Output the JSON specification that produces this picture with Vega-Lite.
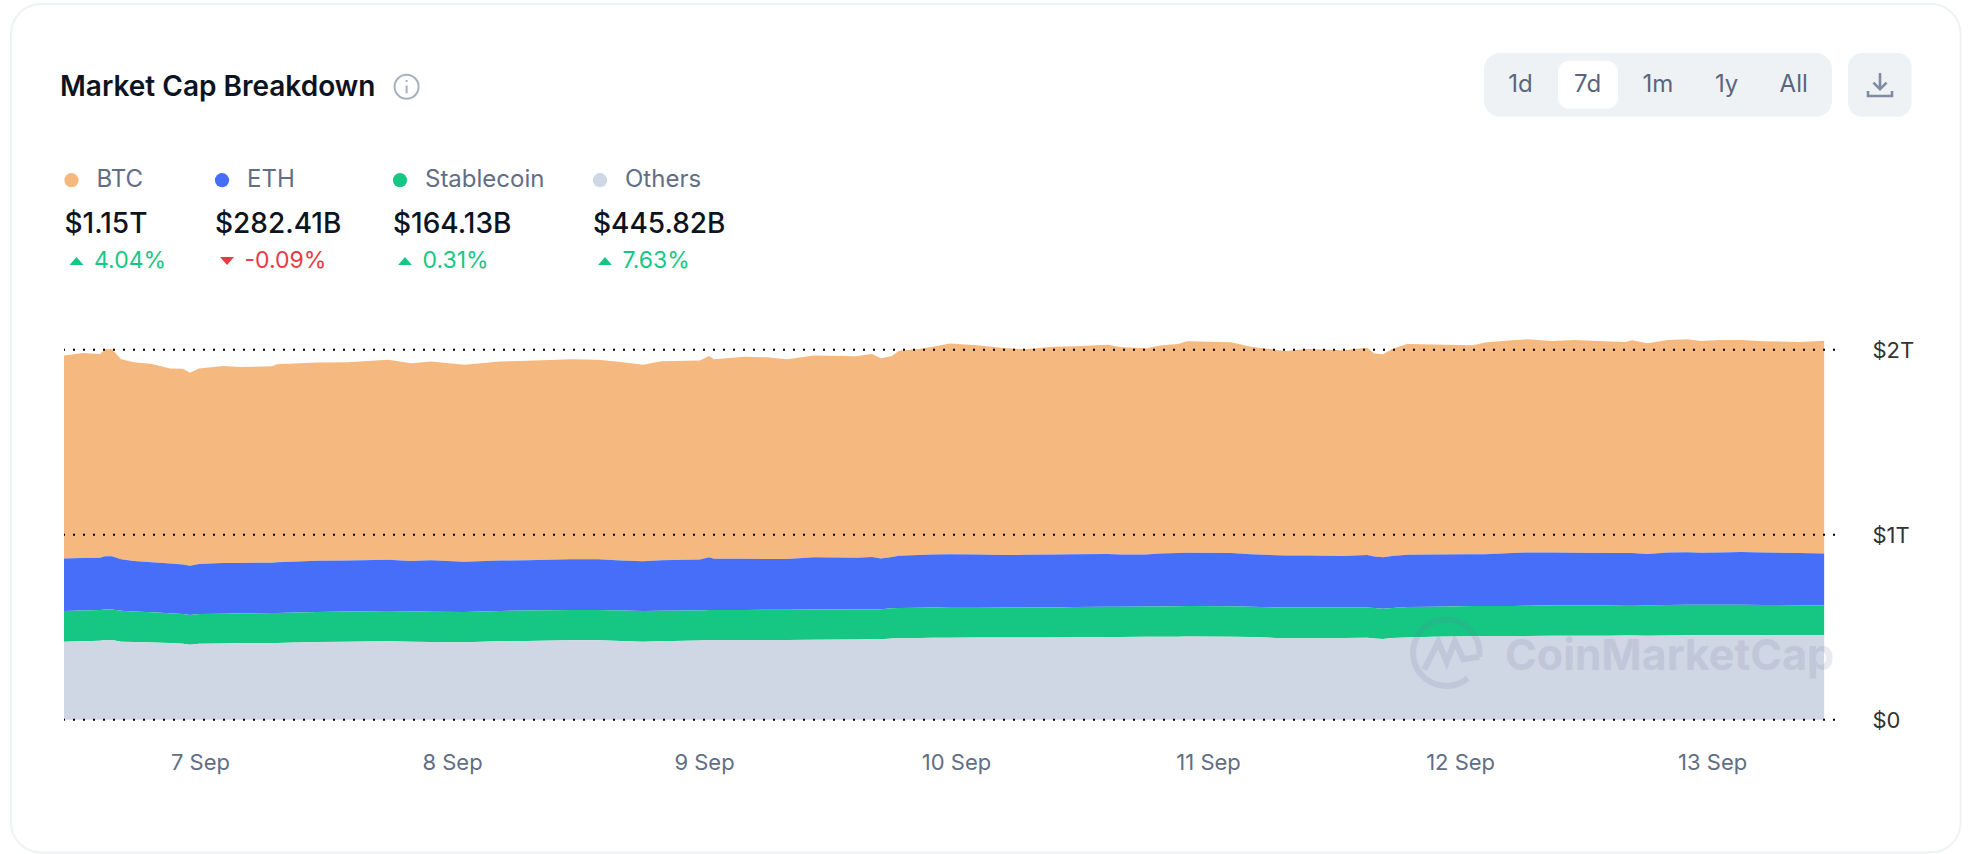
{
"$schema":"https://vega.github.io/schema/vega-lite/v6.json",
"width":1771,"height":370,
"autosize":"none",
"padding":{"left":64,"top":349.7,"right":134,"bottom":134.3},
"background":"#ffffff",
"config":{"view":{"stroke":null},"font":"Inter"},
"title":{"text":"Market Cap Breakdown","anchor":"start","frame":"group","offset":-113,"baseline":"middle","fontSize":28,"font":"Inter","fontWeight":600,"color":"#0d1421","dx":-4},
"datasets":{
"caps":[
{"t":"2024-09-06T11:03Z","Others":0.422,"Stablecoin":0.166,"ETH":0.283,"BTC":1.097},
{"t":"2024-09-06T12:51Z","Others":0.424,"Stablecoin":0.166,"ETH":0.284,"BTC":1.108},
{"t":"2024-09-06T14:29Z","Others":0.427,"Stablecoin":0.166,"ETH":0.283,"BTC":1.101},
{"t":"2024-09-06T14:57Z","Others":0.431,"Stablecoin":0.165,"ETH":0.287,"BTC":1.119},
{"t":"2024-09-06T15:37Z","Others":0.431,"Stablecoin":0.165,"ETH":0.288,"BTC":1.119},
{"t":"2024-09-06T16:29Z","Others":0.422,"Stablecoin":0.167,"ETH":0.278,"BTC":1.081},
{"t":"2024-09-06T17:43Z","Others":0.420,"Stablecoin":0.165,"ETH":0.273,"BTC":1.074},
{"t":"2024-09-06T19:26Z","Others":0.417,"Stablecoin":0.164,"ETH":0.270,"BTC":1.072},
{"t":"2024-09-06T21:09Z","Others":0.414,"Stablecoin":0.162,"ETH":0.268,"BTC":1.054},
{"t":"2024-09-06T22:23Z","Others":0.410,"Stablecoin":0.161,"ETH":0.268,"BTC":1.058},
{"t":"2024-09-06T23:03Z","Others":0.405,"Stablecoin":0.161,"ETH":0.266,"BTC":1.043},
{"t":"2024-09-06T23:54Z","Others":0.411,"Stablecoin":0.161,"ETH":0.270,"BTC":1.056},
{"t":"2024-09-07T02:11Z","Others":0.412,"Stablecoin":0.161,"ETH":0.274,"BTC":1.065},
{"t":"2024-09-07T03:54Z","Others":0.414,"Stablecoin":0.161,"ETH":0.272,"BTC":1.059},
{"t":"2024-09-07T06:51Z","Others":0.415,"Stablecoin":0.162,"ETH":0.272,"BTC":1.062},
{"t":"2024-09-07T07:20Z","Others":0.415,"Stablecoin":0.162,"ETH":0.274,"BTC":1.071},
{"t":"2024-09-07T11:09Z","Others":0.420,"Stablecoin":0.162,"ETH":0.277,"BTC":1.072},
{"t":"2024-09-07T14:06Z","Others":0.422,"Stablecoin":0.163,"ETH":0.275,"BTC":1.072},
{"t":"2024-09-07T17:54Z","Others":0.424,"Stablecoin":0.164,"ETH":0.277,"BTC":1.081},
{"t":"2024-09-07T20:06Z","Others":0.422,"Stablecoin":0.164,"ETH":0.272,"BTC":1.069},
{"t":"2024-09-07T22:00Z","Others":0.420,"Stablecoin":0.164,"ETH":0.278,"BTC":1.074},
{"t":"2024-09-08T01:09Z","Others":0.418,"Stablecoin":0.164,"ETH":0.272,"BTC":1.065},
{"t":"2024-09-08T04:34Z","Others":0.424,"Stablecoin":0.164,"ETH":0.272,"BTC":1.076},
{"t":"2024-09-08T07:09Z","Others":0.426,"Stablecoin":0.164,"ETH":0.272,"BTC":1.078},
{"t":"2024-09-08T11:20Z","Others":0.430,"Stablecoin":0.163,"ETH":0.274,"BTC":1.081},
{"t":"2024-09-08T13:54Z","Others":0.430,"Stablecoin":0.163,"ETH":0.274,"BTC":1.079},
{"t":"2024-09-08T16:06Z","Others":0.425,"Stablecoin":0.165,"ETH":0.271,"BTC":1.072},
{"t":"2024-09-08T18:11Z","Others":0.422,"Stablecoin":0.166,"ETH":0.269,"BTC":1.061},
{"t":"2024-09-08T19:54Z","Others":0.424,"Stablecoin":0.165,"ETH":0.273,"BTC":1.076},
{"t":"2024-09-08T23:37Z","Others":0.428,"Stablecoin":0.162,"ETH":0.276,"BTC":1.075},
{"t":"2024-09-09T00:28Z","Others":0.431,"Stablecoin":0.162,"ETH":0.285,"BTC":1.088},
{"t":"2024-09-09T00:57Z","Others":0.431,"Stablecoin":0.162,"ETH":0.277,"BTC":1.078},
{"t":"2024-09-09T03:54Z","Others":0.431,"Stablecoin":0.162,"ETH":0.277,"BTC":1.092},
{"t":"2024-09-09T06:00Z","Others":0.431,"Stablecoin":0.163,"ETH":0.275,"BTC":1.090},
{"t":"2024-09-09T07:54Z","Others":0.431,"Stablecoin":0.164,"ETH":0.274,"BTC":1.079},
{"t":"2024-09-09T10:28Z","Others":0.432,"Stablecoin":0.164,"ETH":0.282,"BTC":1.090},
{"t":"2024-09-09T14:28Z","Others":0.434,"Stablecoin":0.163,"ETH":0.279,"BTC":1.088},
{"t":"2024-09-09T16:00Z","Others":0.435,"Stablecoin":0.162,"ETH":0.283,"BTC":1.097},
{"t":"2024-09-09T16:51Z","Others":0.435,"Stablecoin":0.162,"ETH":0.274,"BTC":1.083},
{"t":"2024-09-09T17:54Z","Others":0.439,"Stablecoin":0.163,"ETH":0.278,"BTC":1.086},
{"t":"2024-09-09T18:34Z","Others":0.442,"Stablecoin":0.162,"ETH":0.282,"BTC":1.109},
{"t":"2024-09-09T20:29Z","Others":0.442,"Stablecoin":0.163,"ETH":0.285,"BTC":1.114},
{"t":"2024-09-09T21:43Z","Others":0.443,"Stablecoin":0.164,"ETH":0.286,"BTC":1.123},
{"t":"2024-09-09T23:26Z","Others":0.443,"Stablecoin":0.166,"ETH":0.286,"BTC":1.139},
{"t":"2024-09-10T02:00Z","Others":0.444,"Stablecoin":0.165,"ETH":0.284,"BTC":1.131},
{"t":"2024-09-10T04:34Z","Others":0.444,"Stablecoin":0.164,"ETH":0.282,"BTC":1.119},
{"t":"2024-09-10T06:29Z","Others":0.445,"Stablecoin":0.163,"ETH":0.283,"BTC":1.112},
{"t":"2024-09-10T09:14Z","Others":0.445,"Stablecoin":0.162,"ETH":0.286,"BTC":1.123},
{"t":"2024-09-10T11:20Z","Others":0.446,"Stablecoin":0.163,"ETH":0.285,"BTC":1.125},
{"t":"2024-09-10T14:28Z","Others":0.447,"Stablecoin":0.164,"ETH":0.285,"BTC":1.131},
{"t":"2024-09-10T15:37Z","Others":0.447,"Stablecoin":0.164,"ETH":0.282,"BTC":1.122},
{"t":"2024-09-10T18:06Z","Others":0.448,"Stablecoin":0.164,"ETH":0.281,"BTC":1.115},
{"t":"2024-09-10T19:26Z","Others":0.448,"Stablecoin":0.164,"ETH":0.286,"BTC":1.125},
{"t":"2024-09-10T21:09Z","Others":0.449,"Stablecoin":0.164,"ETH":0.288,"BTC":1.130},
{"t":"2024-09-10T22:00Z","Others":0.450,"Stablecoin":0.164,"ETH":0.289,"BTC":1.143},
{"t":"2024-09-11T02:11Z","Others":0.448,"Stablecoin":0.165,"ETH":0.288,"BTC":1.139},
{"t":"2024-09-11T04:06Z","Others":0.447,"Stablecoin":0.163,"ETH":0.285,"BTC":1.121},
{"t":"2024-09-11T06:29Z","Others":0.442,"Stablecoin":0.165,"ETH":0.282,"BTC":1.110},
{"t":"2024-09-11T07:20Z","Others":0.442,"Stablecoin":0.164,"ETH":0.281,"BTC":1.106},
{"t":"2024-09-11T09:26Z","Others":0.442,"Stablecoin":0.164,"ETH":0.281,"BTC":1.117},
{"t":"2024-09-11T12:51Z","Others":0.441,"Stablecoin":0.165,"ETH":0.279,"BTC":1.112},
{"t":"2024-09-11T15:09Z","Others":0.443,"Stablecoin":0.164,"ETH":0.283,"BTC":1.121},
{"t":"2024-09-11T15:49Z","Others":0.439,"Stablecoin":0.165,"ETH":0.278,"BTC":1.098},
{"t":"2024-09-11T16:40Z","Others":0.436,"Stablecoin":0.164,"ETH":0.278,"BTC":1.097},
{"t":"2024-09-11T17:31Z","Others":0.441,"Stablecoin":0.163,"ETH":0.281,"BTC":1.119},
{"t":"2024-09-11T18:57Z","Others":0.445,"Stablecoin":0.164,"ETH":0.283,"BTC":1.139},
{"t":"2024-09-11T21:26Z","Others":0.448,"Stablecoin":0.163,"ETH":0.282,"BTC":1.135},
{"t":"2024-09-12T01:14Z","Others":0.451,"Stablecoin":0.163,"ETH":0.280,"BTC":1.130},
{"t":"2024-09-12T02:23Z","Others":0.452,"Stablecoin":0.162,"ETH":0.281,"BTC":1.144},
{"t":"2024-09-12T04:57Z","Others":0.452,"Stablecoin":0.163,"ETH":0.286,"BTC":1.150},
{"t":"2024-09-12T06:23Z","Others":0.453,"Stablecoin":0.163,"ETH":0.288,"BTC":1.152},
{"t":"2024-09-12T08:46Z","Others":0.454,"Stablecoin":0.164,"ETH":0.286,"BTC":1.143},
{"t":"2024-09-12T10:51Z","Others":0.454,"Stablecoin":0.164,"ETH":0.285,"BTC":1.149},
{"t":"2024-09-12T14:17Z","Others":0.454,"Stablecoin":0.165,"ETH":0.282,"BTC":1.144},
{"t":"2024-09-12T15:43Z","Others":0.455,"Stablecoin":0.165,"ETH":0.281,"BTC":1.140},
{"t":"2024-09-12T16:23Z","Others":0.455,"Stablecoin":0.165,"ETH":0.281,"BTC":1.150},
{"t":"2024-09-12T17:49Z","Others":0.454,"Stablecoin":0.165,"ETH":0.277,"BTC":1.139},
{"t":"2024-09-12T19:49Z","Others":0.455,"Stablecoin":0.165,"ETH":0.284,"BTC":1.149},
{"t":"2024-09-12T21:37Z","Others":0.456,"Stablecoin":0.165,"ETH":0.284,"BTC":1.151},
{"t":"2024-09-12T22:57Z","Others":0.456,"Stablecoin":0.165,"ETH":0.282,"BTC":1.144},
{"t":"2024-09-13T00:40Z","Others":0.456,"Stablecoin":0.165,"ETH":0.283,"BTC":1.148},
{"t":"2024-09-13T02:46Z","Others":0.456,"Stablecoin":0.165,"ETH":0.285,"BTC":1.146},
{"t":"2024-09-13T04:52Z","Others":0.456,"Stablecoin":0.164,"ETH":0.284,"BTC":1.142},
{"t":"2024-09-13T08:17Z","Others":0.456,"Stablecoin":0.163,"ETH":0.282,"BTC":1.141},
{"t":"2024-09-13T10:40Z","Others":0.456,"Stablecoin":0.162,"ETH":0.281,"BTC":1.149}
],
"summary":[
{"order":1,"series":"BTC","cap":"$1.15T","change":"4.04%","dir":"up"},
{"order":2,"series":"ETH","cap":"$282.41B","change":"-0.09%","dir":"down"},
{"order":3,"series":"Stablecoin","cap":"$164.13B","change":"0.31%","dir":"up"},
{"order":4,"series":"Others","cap":"$445.82B","change":"7.63%","dir":"up"}
],
"ranges":[
{"slot":1,"range":"1d"},{"slot":2,"range":"7d"},{"slot":3,"range":"1m"},{"slot":4,"range":"1y"},{"slot":5,"range":"All"}
],
"gridlines":[{"level":0},{"level":1},{"level":2}]
},
"resolve":{"scale":{"x":"independent","y":"independent"},"axis":{"x":"independent","y":"independent"}},
"layer":[
{"data":{"values":[{"part":"card"}]},"mark":{"type":"rect","fillOpacity":0,"stroke":"#eff2f5","strokeWidth":2,"cornerRadius":30},
 "encoding":{"x":{"value":-53},"x2":{"value":1896.6},"y":{"value":-345.7},"y2":{"value":502.9}}},
{"data":{"values":[{"part":"range selector"}]},"mark":{"type":"rect","fill":"#eff2f5","cornerRadius":16},
 "encoding":{"x":{"value":1420},"x2":{"value":1768},"y":{"value":-296.7},"y2":{"value":-233}}},
{"data":{"values":[{"part":"active range"}]},"mark":{"type":"rect","fill":"#ffffff","cornerRadius":11},
 "encoding":{"x":{"value":1494},"x2":{"value":1554},"y":{"value":-288.7},"y2":{"value":-241}}},
{"data":{"values":[{"part":"download"}]},"mark":{"type":"rect","fill":"#eff2f5","cornerRadius":14},
 "encoding":{"x":{"value":1784},"x2":{"value":1847.6},"y":{"value":-296.7},"y2":{"value":-233}}},
{"data":{"values":[{"part":"download icon"}]},"mark":{"type":"point","filled":false,"stroke":"#7f8ba3","strokeWidth":2.6,"size":576,"opacity":1,"shape":"M0,-1L0,0.35M-0.55,-0.2L0,0.35L0.55,-0.2M-1,0.5L-1,0.92L1,0.92L1,0.5"},
 "encoding":{"x":{"value":1816},"y":{"value":-264.7}}},
{"data":{"values":[{"part":"info icon"}]},"mark":{"type":"point","filled":false,"stroke":"#a6b0c3","strokeWidth":2,"size":576,"opacity":1,"shape":"M-1,0A1,1 0 1 1 1,0A1,1 0 1 1 -1,0M0,-0.1L0,0.55M0,-0.55L0,-0.4"},
 "encoding":{"x":{"value":342.6},"y":{"value":-263}}},
{"data":{"name":"ranges"},"mark":{"type":"text","font":"Inter","fontSize":24,"color":"#58667e","baseline":"middle","align":"center"},
 "encoding":{"x":{"field":"slot","type":"quantitative","axis":null,"scale":{"domain":[1,2,3,4,5],"range":[1456.5,1523.6,1594,1662.6,1729.7],"nice":false,"zero":false}},"y":{"value":-264.7},"text":{"field":"range"}}},
{"data":{"name":"summary"},"mark":{"type":"point","filled":true,"size":201,"opacity":1,"xOffset":7.5},
 "encoding":{"x":{"field":"order","type":"quantitative","axis":null,"scale":{"domain":[1,2,3,4],"range":[0,150.5,328.5,528.5],"nice":false,"zero":false}},
 "y":{"datum":"name","type":"nominal","axis":null,"scale":{"domain":["name","cap","change"],"range":[-169.5,-88.7],"padding":0}},
 "color":{"field":"series","type":"nominal","legend":null,"scale":{"domain":["BTC","ETH","Stablecoin","Others"],"range":["#f5b97f","#476ef8","#16c784","#cfd6e4"]}}}},
{"data":{"name":"summary"},"mark":{"type":"text","font":"Inter","fontSize":24,"color":"#616e85","baseline":"middle","align":"left","xOffset":32.5},
 "encoding":{"x":{"field":"order","type":"quantitative","axis":null,"scale":{"domain":[1,2,3,4],"range":[0,150.5,328.5,528.5],"nice":false,"zero":false}},
 "y":{"datum":"name","type":"nominal","axis":null,"scale":{"domain":["name","cap","change"],"range":[-169.5,-88.7],"padding":0}},
 "text":{"field":"series"}}},
{"data":{"name":"summary"},"mark":{"type":"text","font":"Inter","fontSize":28,"fontWeight":500,"color":"#0d1421","baseline":"middle","align":"left","xOffset":0.5,"yOffset":4},
 "encoding":{"x":{"field":"order","type":"quantitative","axis":null,"scale":{"domain":[1,2,3,4],"range":[0,150.5,328.5,528.5],"nice":false,"zero":false}},
 "y":{"datum":"cap","type":"nominal","axis":null,"scale":{"domain":["name","cap","change"],"range":[-169.5,-88.7],"padding":0}},
 "text":{"field":"cap"}}},
{"data":{"name":"summary"},"mark":{"type":"point","filled":true,"size":196,"opacity":1,"xOffset":12.5},
 "encoding":{"x":{"field":"order","type":"quantitative","axis":null,"scale":{"domain":[1,2,3,4],"range":[0,150.5,328.5,528.5],"nice":false,"zero":false}},
 "y":{"datum":"change","type":"nominal","axis":null,"scale":{"domain":["name","cap","change"],"range":[-169.5,-88.7],"padding":0}},
 "shape":{"field":"dir","type":"nominal","legend":null,"scale":{"domain":["up","down"],"range":["M-1,0.57L1,0.57L0,-0.57Z","M-1,-0.57L1,-0.57L0,0.57Z"]}},
 "color":{"condition":{"test":"datum.dir === 'down'","value":"#ea3943"},"value":"#16c784"}}},
{"data":{"name":"summary"},"mark":{"type":"text","font":"Inter","fontSize":23,"baseline":"middle","align":"left","xOffset":30},
 "encoding":{"x":{"field":"order","type":"quantitative","axis":null,"scale":{"domain":[1,2,3,4],"range":[0,150.5,328.5,528.5],"nice":false,"zero":false}},
 "y":{"datum":"change","type":"nominal","axis":null,"scale":{"domain":["name","cap","change"],"range":[-169.5,-88.7],"padding":0}},
 "text":{"field":"change"},
 "color":{"condition":{"test":"datum.dir === 'down'","value":"#ea3943"},"value":"#16c784"}}},
{"data":{"name":"caps"},
 "transform":[
  {"fold":["BTC","ETH","Stablecoin","Others"],"as":["series","cap"]},
  {"lookup":"series","from":{"data":{"values":[{"series":"Others","stack":1},{"series":"Stablecoin","stack":2},{"series":"ETH","stack":3},{"series":"BTC","stack":4}]},"key":"series","fields":["stack"]}}
 ],
 "mark":{"type":"area","interpolate":"linear","opacity":1},
 "encoding":{
  "x":{"field":"t","type":"temporal","title":null,"scale":{"type":"utc","domain":["2024-09-06T11:03:00Z","2024-09-13T11:42:00Z"],"nice":false},
   "axis":{"orient":"bottom","labelExpr":"utcFormat(datum.value, '%-d %b')","tickCount":{"interval":"day","step":1},"labelPadding":33,"labelFontSize":22,"labelFont":"Inter","labelColor":"#616e85","domain":false,"ticks":false,"grid":false,"labelFlush":false,"labelOverlap":false}},
  "y":{"field":"cap","type":"quantitative","stack":"zero","title":null,"scale":{"domain":[0,2],"nice":false},
   "axis":{"orient":"right","values":[0,1,2],"labelExpr":"datum.value === 0 ? '$0' : '$' + datum.value + 'T'","labelPadding":37,"labelOffset":1.2,"labelFontSize":22,"labelFont":"Inter","labelColor":"#333333","domain":false,"ticks":false,"grid":false}},
  "order":{"field":"stack","type":"quantitative"},
  "color":{"field":"series","type":"nominal","legend":null,"scale":{"domain":["BTC","ETH","Stablecoin","Others"],"range":["#f5b97f","#476ef8","#16c784","#cfd6e4"]}}
 }},
{"data":{"name":"gridlines"},"mark":{"type":"rule","color":"#000000","strokeWidth":2,"strokeDash":[2,8]},
 "encoding":{"y":{"field":"level","type":"quantitative","axis":null,"scale":{"domain":[0,2],"nice":false}}}},
{"data":{"values":[{"mark":"CoinMarketCap"}]},"mark":{"type":"text","font":"Inter","fontSize":43,"fontWeight":700,"color":"#6b7a99","opacity":0.15,"align":"left","baseline":"middle"},
 "encoding":{"x":{"value":1441},"y":{"value":307.3},"text":{"field":"mark"}}},
{"data":{"values":[{"part":"watermark logo"}]},"mark":{"type":"point","filled":false,"stroke":"#6b7a99","strokeWidth":6,"opacity":0.15,"size":4900,"shape":"M0.62,0.66A0.95,0.95 0 1 1 0.95,0.05M-0.62,0.42L-0.22,-0.38L0.02,0.2L0.25,-0.38L0.5,0.12L0.95,0.05"},
 "encoding":{"x":{"value":1382},"y":{"value":305.3}}}
]
}
